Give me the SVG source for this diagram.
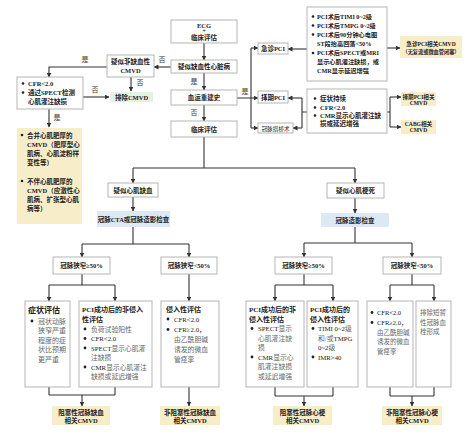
<svg xmlns="http://www.w3.org/2000/svg" width="471" height="435" viewBox="0 0 471 435">
<defs>
<marker id="ah" markerUnits="userSpaceOnUse" markerWidth="5" markerHeight="5" refX="4.5" refY="2.5" orient="auto">
<path d="M0,0 L5,2.5 L0,5 z" fill="#333"/>
</marker>
<style>
.box{fill:#fff;stroke:#b5b5b5;stroke-width:1}
.beige{fill:#f8edc9}
.blue{fill:#dce8f3}
.green{fill:#e3f3e1}
.t{font-family:"Liberation Serif","Noto Sans CJK SC",serif;font-size:6.5px;fill:#222}
.s{font-size:5.6px}
.h{font-size:8px;font-weight:bold}
.c{text-anchor:middle}
.b{font-weight:bold}
.g{fill:#666}
.conn{stroke:#333;stroke-width:1.1;fill:none}
.arr{marker-end:url(#ah)}
.dot{fill:#222}
.lbl{font-family:"Liberation Serif","Noto Sans CJK SC",serif;font-size:7px;fill:#333}
</style>
</defs>
<rect width="471" height="435" fill="#fff"/>

<g id="connectors">
<path class="conn arr" d="M204,43 V60"/>
<path class="conn arr" d="M171,67 H154"/>
<path class="conn arr" d="M107,67 H49 V77"/>
<path class="conn arr" d="M131,77 V91"/>
<path class="conn arr" d="M83,97 H109"/>
<path class="conn arr" d="M49,109 V127"/>
<path class="conn arr" d="M204,73 V90"/>
<path class="conn arr" d="M204,105 V121"/>
<path class="conn" d="M237,98 H251 M251,48 V128"/>
<path class="conn arr" d="M251,48 H258"/>
<path class="conn arr" d="M251,98 H258"/>
<path class="conn arr" d="M251,128 H258"/>
<path class="conn arr" d="M307,49 H288"/>
<path class="conn arr" d="M387,48 H400"/>
<path class="conn" d="M307,112 H302 M302,98 V128"/>
<path class="conn arr" d="M302,98 H288"/>
<path class="conn arr" d="M302,128 H293"/>
<path class="conn" d="M387,112 H390 M390,97 V127"/>
<path class="conn arr" d="M390,97 H401"/>
<path class="conn arr" d="M390,127 H401"/>
<path class="conn" d="M204,137 V168 M133,168 H355"/>
<path class="conn arr" d="M133,168 V183"/>
<path class="conn arr" d="M355,168 V183"/>
<path class="conn arr" d="M133,197 V211"/>
<path class="conn" d="M133,227 V244 M82,244 H189"/>
<path class="conn arr" d="M82,244 V257"/>
<path class="conn arr" d="M189,244 V257"/>
<path class="conn" d="M82,274 V285 M49,285 H115"/>
<path class="conn arr" d="M49,285 V301"/>
<path class="conn arr" d="M115,285 V301"/>
<path class="conn arr" d="M189,274 V301"/>
<path class="conn" d="M49,387 V395 M115,387 V395 M49,395 H115"/>
<path class="conn arr" d="M82,395 V406"/>
<path class="conn arr" d="M189,387 V406"/>
<path class="conn arr" d="M355,198 V213"/>
<path class="conn" d="M355,227 V243 M304,243 H412"/>
<path class="conn arr" d="M304,243 V257"/>
<path class="conn arr" d="M412,243 V257"/>
<path class="conn" d="M304,274 V285 M275,285 H333"/>
<path class="conn arr" d="M275,285 V301"/>
<path class="conn arr" d="M333,285 V301"/>
<path class="conn" d="M412,274 V285 M390,285 H434"/>
<path class="conn arr" d="M390,285 V301"/>
<path class="conn arr" d="M434,285 V301"/>
<path class="conn" d="M275,387 V396 M333,387 V396 M275,396 H333"/>
<path class="conn arr" d="M304,396 V406"/>
<path class="conn" d="M390,387 V396 M434,387 V396 M390,396 H434"/>
<path class="conn arr" d="M412,396 V406"/>
<text class="lbl c" x="162" y="62">否</text>
<text class="lbl c" x="85" y="62">是</text>
<text class="lbl c" x="140" y="85">否</text>
<text class="lbl c" x="95" y="92">否</text>
<text class="lbl c" x="57" y="120">是</text>
<text class="lbl c" x="194" y="84">是</text>
<text class="lbl c" x="194" y="115">否</text>
<text class="lbl c" x="245" y="94">是</text>
</g>

<g id="ecg">
<rect class="box" x="171" y="20" width="66" height="23"/>
<text class="t c b" x="204" y="27.5">ECG</text>
<text class="t c b" x="204" y="33">+</text>
<text class="t c b" x="204" y="40">临床评估</text>
</g>
<g id="suspect-ihd">
<rect class="box" x="171" y="60" width="66" height="13"/>
<text class="t c b" x="204" y="69">疑似缺血性心脏病</text>
</g>
<g id="suspect-nonischemic">
<rect class="box" x="107" y="55" width="47" height="22"/>
<text class="t c b" x="130.5" y="64">疑似非缺血性</text>
<text class="t c b" x="130.5" y="73">CMVD</text>
</g>
<g id="cfr-spect">
<rect class="box" x="17" y="77" width="66" height="32"/>
<circle class="dot" cx="23" cy="83.5" r="1.3"/>
<text class="t b" x="28" y="86">CFR&lt;2.0</text>
<circle class="dot" cx="23" cy="92.5" r="1.3"/>
<text class="t b" x="28" y="95">通过SPECT检测</text>
<text class="t b" x="28" y="104">心肌灌注缺损</text>
</g>
<g id="exclude-cmvd">
<rect class="green" x="110" y="92" width="43" height="10"/>
<text class="t c b" x="131.5" y="99.5">排除CMVD</text>
</g>
<g id="cardiomyopathy-cmvd">
<rect class="beige" x="17" y="128" width="65" height="96"/>
<circle class="dot" cx="22" cy="135" r="1.3"/>
<text class="t b" x="27" y="137.5">合并心肌肥厚的</text>
<text class="t b" x="27" y="146.5">CMVD（肥厚型心</text>
<text class="t b" x="27" y="155.5">肌病、心肌淀粉样</text>
<text class="t b" x="27" y="164.5">变性等）</text>
<circle class="dot" cx="22" cy="181" r="1.3"/>
<text class="t b" x="27" y="183.5">不伴心肌肥厚的</text>
<text class="t b" x="27" y="192.5">CMVD（应激性心</text>
<text class="t b" x="27" y="201.5">肌病、扩张型心肌</text>
<text class="t b" x="27" y="210.5">病等）</text>
</g>
<g id="revasc-history">
<rect class="box" x="171" y="90" width="66" height="15"/>
<text class="t c b" x="204" y="100">血运重建史</text>
</g>
<g id="clinical-eval">
<rect class="box" x="171" y="121" width="66" height="16"/>
<text class="t c b" x="204" y="131.5">临床评估</text>
</g>

<g id="emergency-pci">
<rect class="box" x="258" y="43" width="30" height="11"/>
<text class="t c b" x="273" y="51">急诊PCI</text>
</g>
<g id="emergency-criteria">
<rect class="box" x="307" y="7" width="80" height="74"/>
<g class="t b" style="font-size:6.2px">
<circle class="dot" cx="313" cy="16.5" r="1.3"/>
<text x="317" y="18.5">PCI术后TIMI 0~2级</text>
<circle class="dot" cx="313" cy="25.5" r="1.3"/>
<text x="317" y="27.5">PCI术后TMPG 0~2级</text>
<circle class="dot" cx="313" cy="34.5" r="1.3"/>
<text x="317" y="36.5">PCI术后90分钟心电图</text>
<text x="317" y="45.5">ST段抬高回落&lt;50%</text>
<circle class="dot" cx="313" cy="53" r="1.3"/>
<text x="317" y="55">PCI术后SPECT或MRI</text>
<text x="317" y="64">显示心肌灌注缺损，或</text>
<text x="317" y="73">CMR显示延迟增强</text>
</g>
</g>
<g id="emergency-cmvd">
<rect class="beige" x="400" y="36" width="62" height="22"/>
<text class="t c b s" x="431" y="45.5">急诊PCI相关CMVD</text>
<text class="t c b" style="font-size:5.2px" x="431" y="54">（无复流或微血管闭塞）</text>
</g>
<g id="elective-pci">
<rect class="box" x="258" y="91" width="30" height="12"/>
<text class="t c b" x="273" y="99.5">择期PCI</text>
</g>
<g id="cabg">
<rect class="box" x="258" y="123" width="35" height="10"/>
<text class="t c s" x="275.5" y="130.5">冠脉搭桥术</text>
</g>
<g id="elective-criteria">
<rect class="box" x="307" y="89" width="80" height="44"/>
<circle class="dot" cx="315" cy="98.5" r="1.3"/>
<text class="t b" x="320" y="100.5">症状持续</text>
<circle class="dot" cx="315" cy="107.5" r="1.3"/>
<text class="t b" x="320" y="109.5">CFR&lt;2.0</text>
<circle class="dot" cx="315" cy="115.5" r="1.3"/>
<text class="t b" x="320" y="117.5">CMR显示心肌灌注缺</text>
<text class="t b" x="320" y="126">损或延迟增强</text>
</g>
<g id="elective-cmvd">
<rect class="beige" x="401" y="92" width="35" height="14"/>
<text class="t c b s" x="418.5" y="98.5">择期PCI相关</text>
<text class="t c b s" x="418.5" y="104.5">CMVD</text>
</g>
<g id="cabg-cmvd">
<rect class="beige" x="401" y="120" width="35" height="14"/>
<text class="t c b s" x="418.5" y="126">CABG相关</text>
<text class="t c b s" x="418.5" y="132">CMVD</text>
</g>

<g id="suspect-ischemia">
<rect class="box" x="108" y="183" width="50" height="14"/>
<text class="t c b" x="133" y="192.5">疑似心肌缺血</text>
</g>
<g id="cta-exam">
<rect class="blue" x="97" y="211" width="73" height="16"/>
<text class="t c b" x="133.5" y="221.5">冠脉CTA或冠脉造影检查</text>
</g>
<g id="stenosis-ge50-a">
<rect class="box" x="53" y="257" width="57" height="17"/>
<text class="t c b" x="81.5" y="268">冠脉狭窄≥50%</text>
</g>
<g id="stenosis-lt50-a">
<rect class="box" x="161" y="257" width="56" height="17"/>
<text class="t c b" x="189" y="268">冠脉狭窄&lt;50%</text>
</g>
<g id="symptom-eval">
<rect class="box" x="25" y="301" width="45" height="86"/>
<text class="t h" x="28" y="313">症状评估</text>
<circle class="dot" cx="32" cy="321" r="1.4"/>
<g class="t g" style="font-size:7px">
<text x="38" y="323.5">冠状动脉</text>
<text x="38" y="333">狭窄严重</text>
<text x="38" y="342.5">程度的症</text>
<text x="38" y="352">状比预期</text>
<text x="38" y="361.5">更严重</text>
</g>
</g>
<g id="pci-noninvasive-a">
<rect class="box" x="79" y="301" width="73" height="86"/>
<text class="t b" style="font-size:7px" x="82" y="312">PCI成功后的非侵入</text>
<text class="t b" style="font-size:7px" x="82" y="321.5">性评估</text>
<g class="t" style="font-size:6.8px">
<circle class="dot" cx="85" cy="329" r="1.4"/>
<text class="g" x="91" y="331.5">负荷试验阳性</text>
<circle class="dot" cx="85" cy="338.5" r="1.4"/>
<text x="91" y="341">CFR&lt;2.0</text>
<circle class="dot" cx="85" cy="348" r="1.4"/>
<text x="91" y="350.5">SPECT<tspan class="g">显示心肌灌</tspan></text>
<text class="g" x="91" y="360">注缺损</text>
<circle class="dot" cx="85" cy="367" r="1.4"/>
<text x="91" y="369.5">CMR<tspan class="g">显示心肌灌注</tspan></text>
<text class="g" x="91" y="379">缺损或延迟增强</text>
</g>
</g>
<g id="invasive-a">
<rect class="box" x="161" y="301" width="58" height="86"/>
<text class="t b" style="font-size:7px" x="166" y="311.5">侵入性评估</text>
<g class="t" style="font-size:6.8px">
<circle class="dot" cx="168" cy="319" r="1.4"/>
<text x="174" y="321.5">CFR&lt;2.0</text>
<circle class="dot" cx="168" cy="329.5" r="1.4"/>
<text x="174" y="332">CFR≥2.0，</text>
<text class="g" x="174" y="342">由乙酰胆碱</text>
<text class="g" x="174" y="352">诱发的微血</text>
<text class="g" x="174" y="362">管痉挛</text>
</g>
</g>
<g id="obstructive-ischemia-cmvd">
<rect class="beige" x="52" y="406" width="58" height="19"/>
<text class="t c b" x="81" y="414.5">阻塞性冠脉缺血</text>
<text class="t c b" x="81" y="423">相关CMVD</text>
</g>
<g id="nonobstructive-ischemia-cmvd">
<rect class="beige" x="160" y="406" width="60" height="19"/>
<text class="t c b" x="190" y="414.5">非阻塞性冠脉缺血</text>
<text class="t c b" x="190" y="423">相关CMVD</text>
</g>

<g id="suspect-mi">
<rect class="box" x="327" y="183" width="57" height="15"/>
<text class="t c b" x="355.5" y="193">疑似心肌梗死</text>
</g>
<g id="angio-exam">
<rect class="blue" x="321" y="213" width="68" height="14"/>
<text class="t c b" x="355" y="222.5">冠脉造影检查</text>
</g>
<g id="stenosis-ge50-b">
<rect class="box" x="275" y="257" width="57" height="17"/>
<text class="t c b" x="303.5" y="268">冠脉狭窄≥50%</text>
</g>
<g id="stenosis-lt50-b">
<rect class="box" x="383" y="257" width="58" height="17"/>
<text class="t c b" x="412" y="268">冠脉狭窄&lt;50%</text>
</g>
<g id="pci-noninvasive-b">
<rect class="box" x="246" y="301" width="58" height="86"/>
<text class="t b" style="font-size:7px" x="249" y="312">PCI成功后的非</text>
<text class="t b" style="font-size:7px" x="249" y="321.5">侵入性评估</text>
<g class="t" style="font-size:6.8px">
<circle class="dot" cx="252" cy="328.5" r="1.4"/>
<text x="258" y="331">SPECT<tspan class="g">显示</tspan></text>
<text class="g" x="258" y="340.5">心肌灌注缺</text>
<text class="g" x="258" y="350">损</text>
<circle class="dot" cx="252" cy="357" r="1.4"/>
<text x="258" y="359.5">CMR<tspan class="g">显示心</tspan></text>
<text class="g" x="258" y="369">肌灌注缺损</text>
<text class="g" x="258" y="378.5">或延迟增强</text>
</g>
</g>
<g id="pci-invasive-b">
<rect class="box" x="307" y="301" width="51" height="86"/>
<text class="t b" style="font-size:7px" x="310" y="312">PCI成功后的</text>
<text class="t b" style="font-size:7px" x="310" y="321.5">侵入性评估</text>
<g class="t" style="font-size:6.8px">
<circle class="dot" cx="313" cy="328.5" r="1.4"/>
<text x="318" y="331">TIMI 0~2<tspan class="g">级</tspan></text>
<text x="318" y="340.5"><tspan class="g">和/或</tspan>TMPG</text>
<text x="318" y="350">0~2<tspan class="g">级</tspan></text>
<circle class="dot" cx="313" cy="357" r="1.4"/>
<text x="318" y="359.5">IMR&gt;40</text>
</g>
</g>
<g id="invasive-b">
<rect class="box" x="367" y="301" width="46" height="86"/>
<g class="t" style="font-size:6.5px">
<circle class="dot" cx="372" cy="312.5" r="1.4"/>
<text x="377" y="315">CFR&lt;2.0</text>
<circle class="dot" cx="372" cy="322.5" r="1.4"/>
<text x="377" y="325">CFR≥2.0，</text>
<text class="g" x="377" y="334.5">由乙酰胆碱</text>
<text class="g" x="377" y="344">诱发的微血</text>
<text class="g" x="377" y="353.5">管痉挛</text>
</g>
</g>
<g id="exclude-thrombus">
<rect class="box" x="416" y="301" width="35" height="86"/>
<g class="t g" style="font-size:6.5px">
<text x="420" y="315">排除短暂</text>
<text x="420" y="324.5">性冠脉血</text>
<text x="420" y="334">栓形成</text>
</g>
</g>
<g id="obstructive-mi-cmvd">
<rect class="beige" x="273" y="406" width="59" height="19"/>
<text class="t c b" x="302.5" y="414.5">阻塞性冠脉心梗</text>
<text class="t c b" x="302.5" y="423">相关CMVD</text>
</g>
<g id="nonobstructive-mi-cmvd">
<rect class="beige" x="382" y="406" width="60" height="19"/>
<text class="t c b" x="412" y="414.5">非阻塞性冠脉心梗</text>
<text class="t c b" x="412" y="423">相关CMVD</text>
</g>
</svg>
